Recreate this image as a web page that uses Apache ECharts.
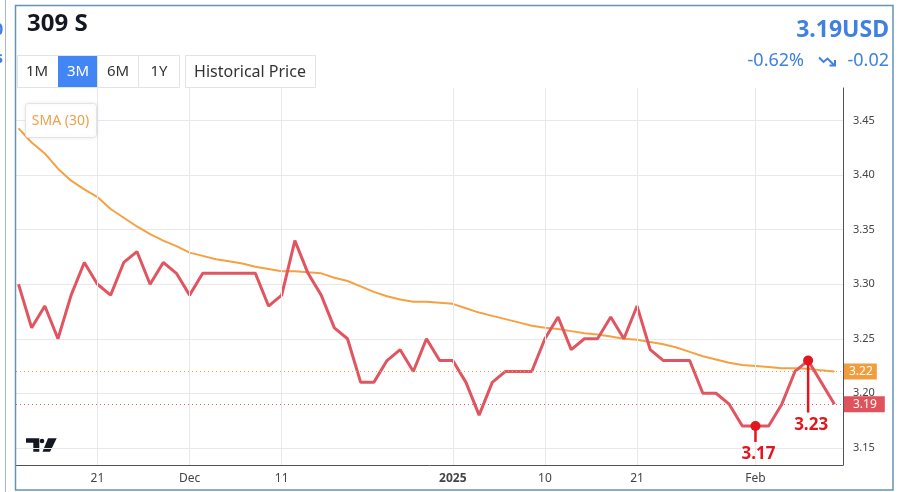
<!DOCTYPE html>
<html><head><meta charset="utf-8">
<script src="https://cdn.jsdelivr.net/npm/echarts@6/dist/echarts.min.js"></script>
<style>html,body{margin:0;padding:0;background:#fff}#c{width:903px;height:492px}</style>
</head><body><div id="c"></div>
<script>
// ---- data (trading-day index along x) ----
const closePrices = [3.30,3.26,3.28,3.25,3.29,3.32,3.30,3.29,3.32,3.33,
  3.30,3.32,3.31,3.29,3.31,3.31,3.31,3.31,3.31,3.28,
  3.29,3.34,3.31,3.29,3.26,3.25,3.21,3.21,3.23,3.24,
  3.22,3.25,3.23,3.23,3.21,3.18,3.21,3.22,3.22,3.22,
  3.25,3.27,3.24,3.25,3.25,3.27,3.25,3.28,3.24,3.23,
  3.23,3.23,3.20,3.20,3.19,3.17,3.17,3.17,3.19,3.22,
  3.23,3.21,3.19];
const smaValues = [3.443,3.430,3.420,3.406,3.395,3.387,3.380,3.369,3.361,3.353,
  3.346,3.340,3.335,3.329,3.326,3.323,3.321,3.319,3.316,3.314,
  3.312,3.312,3.311,3.310,3.306,3.303,3.298,3.293,3.289,3.286,
  3.284,3.284,3.283,3.282,3.278,3.274,3.271,3.268,3.265,3.262,
  3.260,3.259,3.257,3.255,3.254,3.252,3.250,3.249,3.247,3.245,
  3.242,3.238,3.234,3.231,3.228,3.226,3.225,3.224,3.223,3.223,
  3.2225,3.221,3.220];
const tickIndex = [6,13,20,33,40,47,56];
const tickLabels = ['21','Dec','11','2025','10','21','Feb'];
const priceTicks = [3.15,3.20,3.25,3.30,3.35,3.40,3.45];
const annIndex = [56,60];
const annValue = [3.17,3.23];
const lastClose = 3.19;
const lastSma = 3.22;

// ---- styling ----
const FONT = '"Noto Sans", "DejaVu Sans", sans-serif';
const RED = '#e05560', ORANGE = '#f5a142', MARK = '#e3161f', BLUE = '#3f80e0';
const GRID = '#e8e8ec';
const annStem = [16, 52];

const chart = echarts.init(document.getElementById('c'), null, {renderer: 'canvas'});

const closeData = closePrices.map((v, i) => [i, v]);
const smaData = smaValues.map((v, i) => [i, v]);
const annData = annIndex.map((x, i) => [x, annValue[i]]);

const option = {
  animation: false,
  backgroundColor: '#fff',
  textStyle: {fontFamily: FONT},
  grid: {left: 16, right: 60, top: 88, bottom: 27, containLabel: false, outerBoundsMode: 'none'},
  xAxis: {
    type: 'value', min: -0.19, max: 62.65,
    axisLine: {show: true, onZero: false, lineStyle: {color: '#50535e', width: 1}},
    axisTick: {show: false, customValues: tickIndex},
    axisLabel: {
      customValues: tickIndex, color: '#444', fontSize: 12, margin: 8, fontFamily: FONT,
      formatter: v => {
        const t = tickLabels[tickIndex.indexOf(Math.round(v))];
        return t === '2025' ? '{b|' + t + '}' : t;
      },
      rich: {b: {fontWeight: 'bold', fontSize: 12, color: '#444', fontFamily: FONT}}
    },
    splitLine: {show: false}
  },
  yAxis: {
    type: 'value', position: 'right', min: 3.1342, max: 3.480, scale: true,
    axisLine: {show: true, onZero: false, lineStyle: {color: '#50535e', width: 1}},
    axisTick: {show: false, customValues: priceTicks},
    axisLabel: {customValues: priceTicks, color: '#444', fontSize: 11, margin: 10, fontFamily: FONT,
      formatter: v => v.toFixed(2)},
    splitLine: {show: true, lineStyle: {color: GRID, width: 1}}
  },
  series: [
    {
      name: 'grid', type: 'line', data: [], z: 1, silent: true,
      markLine: {
        silent: true, symbol: 'none', animation: false,
        lineStyle: {color: GRID, type: 'solid', width: 1},
        label: {show: false},
        data: tickIndex.map(i => ({xAxis: i}))
      }
    },
    {
      name: 'SMA (30)', type: 'line', data: smaData, showSymbol: false, smooth: false,
      lineStyle: {color: ORANGE, width: 2}, z: 2,
      markLine: {
        silent: true, symbol: 'none', animation: false,
        lineStyle: {color: ORANGE, type: [1, 3], width: 1},
        label: {position: 'end', distance: 1, formatter: () => lastSma.toFixed(2),
          color: '#fff', backgroundColor: '#f39c3c', padding: [2, 4, 2, 5],
          fontSize: 12, lineHeight: 12, fontFamily: FONT},
        data: [{yAxis: lastSma}]
      }
    },
    {
      name: 'Close', type: 'line', data: closeData, showSymbol: false,
      lineStyle: {color: RED, width: 3}, z: 3,
      markLine: {
        silent: true, symbol: 'none', animation: false,
        lineStyle: {color: RED, type: [1, 3], width: 1},
        label: {position: 'end', distance: 1, formatter: () => lastClose.toFixed(2),
          color: '#fff', backgroundColor: '#e0525c', padding: [2, 8, 2, 9],
          fontSize: 12, lineHeight: 12, fontFamily: FONT},
        data: [{yAxis: lastClose}]
      }
    },
    {
      type: 'custom', data: annData, z: 5, clip: false,
      renderItem: (params, api) => {
        const p = api.coord([api.value(0), api.value(1)]);
        const stem = annStem[params.dataIndex];
        return {type: 'group', children: [
          {type: 'line', shape: {x1: p[0], y1: p[1], x2: p[0], y2: p[1] + stem},
            style: {stroke: MARK, lineWidth: 2.5}},
          {type: 'circle', shape: {cx: p[0], cy: p[1], r: 5}, style: {fill: MARK}},
          {type: 'text', x: p[0] + 3, y: p[1] + stem + 4,
            style: {text: api.value(1).toFixed(2), fill: MARK, font: 'bold 17px ' + FONT,
              align: 'center', verticalAlign: 'top'}}
        ]};
      }
    }
  ],
  graphic: [
    // left artifacts
    {type: 'line', shape: {x1: 5.5, y1: 0, x2: 5.5, y2: 492}, style: {stroke: '#a9b7c2', lineWidth: 1}},
    {type: 'text', x: -6, y: 22, style: {text: '0', fill: BLUE, font: 'bold 16px ' + FONT}},
    {type: 'text', x: -5, y: 50, style: {text: 's', fill: BLUE, font: 'bold 16px ' + FONT}},
    // frame
    {type: 'rect', shape: {x: 15.5, y: 5.5, width: 877.5, height: 484.5},
      style: {fill: 'none', stroke: '#6593b3', lineWidth: 1.5}, z: 20},
    // title
    {type: 'text', x: 27, y: 24, style: {text: '309 S', fill: '#131722', font: 'bold 24px ' + FONT,
      verticalAlign: 'middle'}},
    // price header
    {type: 'text', x: 889, y: 30, style: {text: '3.19USD', fill: BLUE, font: 'bold 23px ' + FONT,
      align: 'right', verticalAlign: 'middle'}},
    {type: 'text', x: 804, y: 61, style: {text: '-0.62%', fill: BLUE, font: '18px ' + FONT,
      align: 'right', verticalAlign: 'middle'}},
    {type: 'text', x: 889, y: 61, style: {text: '-0.02', fill: BLUE, font: '18px ' + FONT,
      align: 'right', verticalAlign: 'middle'}},
    {type: 'polyline', shape: {points: [[819, 57.5], [823.5, 62], [827.5, 58.5], [834, 65]]},
      style: {stroke: BLUE, lineWidth: 2, fill: null}},
    {type: 'polyline', shape: {points: [[829.5, 65.5], [835, 65.5], [835, 60]]},
      style: {stroke: BLUE, lineWidth: 2, fill: null}},
    // range buttons
    {type: 'rect', shape: {x: 17.5, y: 55.5, width: 162, height: 32},
      style: {fill: '#fff', stroke: '#e0e3eb', lineWidth: 1}},
    {type: 'rect', shape: {x: 58, y: 56, width: 39.5, height: 31}, style: {fill: '#4285f4'}},
    {type: 'line', shape: {x1: 97.5, y1: 56, x2: 97.5, y2: 87}, style: {stroke: '#e0e3eb'}},
    {type: 'line', shape: {x1: 138.5, y1: 56, x2: 138.5, y2: 87}, style: {stroke: '#e0e3eb'}},
    {type: 'text', x: 37, y: 72, style: {text: '1M', fill: '#333', font: '15px ' + FONT, align: 'center', verticalAlign: 'middle'}},
    {type: 'text', x: 78, y: 72, style: {text: '3M', fill: '#fff', font: '15px ' + FONT, align: 'center', verticalAlign: 'middle'}},
    {type: 'text', x: 118, y: 72, style: {text: '6M', fill: '#333', font: '15px ' + FONT, align: 'center', verticalAlign: 'middle'}},
    {type: 'text', x: 159, y: 72, style: {text: '1Y', fill: '#333', font: '15px ' + FONT, align: 'center', verticalAlign: 'middle'}},
    {type: 'rect', shape: {x: 185.5, y: 55.5, width: 130, height: 32},
      style: {fill: '#fff', stroke: '#e0e3eb', lineWidth: 1}},
    {type: 'text', x: 250, y: 72, style: {text: 'Historical Price', fill: '#333', font: '16px ' + FONT, align: 'center', verticalAlign: 'middle'}},
    // SMA legend
    {type: 'rect', z: 10, shape: {x: 25.5, y: 103.5, width: 71, height: 34, r: 3},
      style: {fill: '#fff', stroke: '#e4e4e8', lineWidth: 1, shadowBlur: 4, shadowColor: 'rgba(0,0,0,0.08)'}},
    {type: 'text', z: 11, x: 60.5, y: 121, style: {text: 'SMA (30)', fill: '#f0a04b', font: '14px ' + FONT,
      align: 'center', verticalAlign: 'middle'}},
    // TradingView logo
    {type: 'polygon', shape: {points: [[26, 438.3], [39.3, 438.3], [39.3, 451.7], [33.3, 451.7], [33.3, 442.7], [26, 442.7]]},
      style: {fill: '#131722'}},
    {type: 'circle', shape: {cx: 42, cy: 441, r: 2.3}, style: {fill: '#131722'}},
    {type: 'polygon', shape: {points: [[48, 438.3], [56.7, 438.3], [50, 451.7], [42.5, 451.7]]},
      style: {fill: '#131722'}}
  ]
};
chart.setOption(option);
</script></body></html>
